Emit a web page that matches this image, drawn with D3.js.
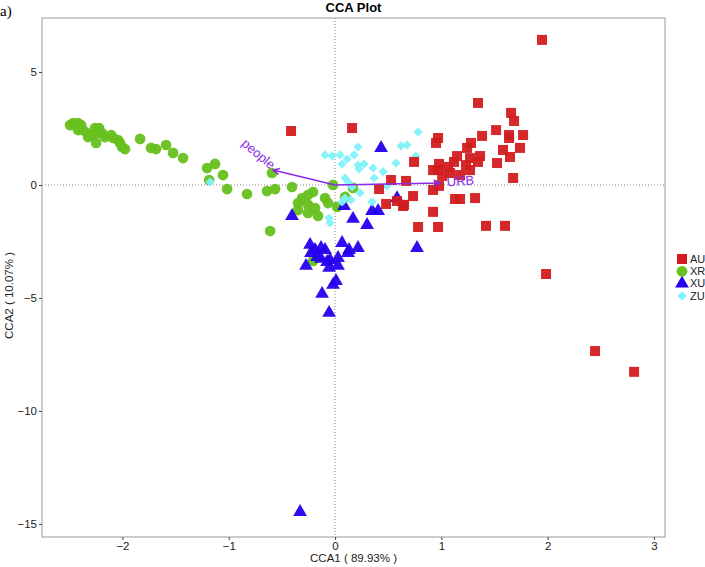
<!DOCTYPE html>
<html>
<head>
<meta charset="utf-8">
<script src="https://cdnjs.cloudflare.com/ajax/libs/d3/7.8.5/d3.min.js"></script>
<style>
  body { margin: 0; background: #fff; }
  svg text { font-family: "Liberation Sans", Arial, sans-serif; }
</style>
</head>
<body>
<div id="chart"></div>
<script>
// CCA site scores per group, [CCA1, CCA2]
const XR = [
  [-2.493, 2.65], [-2.465, 2.74], [-2.418, 2.74], [-2.389, 2.65], [-2.418, 2.43], [-2.371, 2.43],
  [-2.333, 2.30], [-2.324, 2.12], [-2.295, 2.21], [-2.258, 2.52], [-2.220, 2.52], [-2.239, 2.30],
  [-2.192, 2.30], [-2.164, 2.12], [-2.107, 2.21], [-2.088, 2.08], [-2.041, 1.99], [-2.023, 1.86],
  [-2.004, 1.68], [-1.976, 1.59], [-2.248, 1.86], [-1.834, 2.04], [-1.731, 1.64], [-1.684, 1.59],
  [-1.590, 1.77], [-1.524, 1.42], [-1.430, 1.19], [-1.204, 0.75], [-1.129, 0.93], [-1.054, 0.44],
  [-1.185, 0.22], [-1.016, -0.18], [-0.828, -0.40], [-0.593, 0.53], [-0.640, -0.27], [-0.564, -0.18],
  [-0.405, -0.09], [-0.310, -0.58], [-0.254, -0.44], [-0.207, -0.31], [-0.348, -0.80], [-0.254, -0.88],
  [-0.188, -1.02], [-0.348, -1.11], [-0.254, -1.24], [-0.160, -1.37], [-0.094, -0.58], [-0.066, -0.80],
  [-0.019, 0.00], [0.019, -0.97], [0.094, -0.53], [0.169, -0.13], [-0.611, -2.04], [-0.207, -3.36]
];
const XU = [
  [-0.329, -14.47], [0.433, 1.64], [-0.405, -1.37], [0.085, -0.93], [0.169, -1.50], [0.301, -1.77],
  [0.348, -1.15], [0.405, -1.15], [0.583, -0.58], [-0.235, -2.65], [-0.132, -2.79], [-0.094, -2.88],
  [-0.226, -3.01], [-0.169, -3.19], [-0.132, -3.27], [-0.047, -3.32], [0.028, -3.23], [-0.273, -3.58],
  [-0.056, -3.67], [0.028, -3.58], [0.066, -2.57], [0.132, -2.88], [0.122, -3.01], [0.216, -2.79],
  [0.009, -4.25], [-0.019, -4.42], [-0.122, -4.82], [-0.056, -5.66], [0.771, -2.79], [-0.188, -2.88],
  [-0.075, -3.41]
];
const ZU = [
  [-0.094, 1.33], [-0.028, 1.28], [0.047, 1.33], [0.113, 1.15], [0.179, 1.33], [0.216, 1.68],
  [0.066, 0.93], [0.216, 0.88], [0.273, 0.93], [0.226, 0.71], [0.357, 0.75], [0.452, 0.58],
  [0.367, 0.31], [0.094, 0.31], [0.122, 0.13], [0.160, -0.09], [0.235, -0.35], [0.094, -0.58],
  [0.066, -0.75], [0.151, -0.66], [0.348, -0.75], [0.621, 1.73], [0.677, 1.77], [0.781, 2.35],
  [0.762, 1.28], [0.574, 0.97], [0.489, -0.04], [-0.056, -1.46], [-0.047, -1.68], [-1.176, 0.13]
];
const AU = [
  [1.947, 6.42], [1.985, -3.94], [2.446, -7.35], [2.813, -8.27], [-0.414, 2.39], [0.160, 2.52],
  [1.345, 3.63], [1.656, 3.19], [1.684, 2.83], [1.383, 2.17], [1.515, 2.43], [1.637, 2.21],
  [1.637, 2.08], [1.769, 2.21], [0.969, 2.08], [0.950, 1.86], [1.279, 1.86], [1.242, 1.64],
  [1.580, 1.55], [1.740, 1.64], [1.646, 1.24], [1.524, 0.97], [1.148, 1.28], [1.119, 1.02],
  [1.270, 1.19], [1.364, 1.28], [1.345, 1.02], [1.232, 0.88], [1.270, 0.66], [0.978, 0.93],
  [0.922, 0.66], [0.969, 0.66], [1.063, 0.80], [1.082, 0.53], [1.007, 0.40], [1.176, 0.44],
  [0.743, 1.02], [0.668, 0.18], [0.978, -0.04], [0.922, -0.22], [1.675, 0.31], [0.734, -0.49],
  [0.649, -0.88], [1.129, -0.62], [1.176, -0.62], [1.317, -0.58], [0.922, -1.19], [0.781, -1.86],
  [0.969, -1.86], [1.420, -1.81], [1.599, -1.81], [0.527, 0.22], [0.414, -0.18], [0.480, -0.84],
  [0.583, -0.71], [0.640, -0.93]
];

const groups = ["AU", "XR", "XU", "ZU"];
const groupData = { AU: AU, XR: XR, XU: XU, ZU: ZU };
const drawOrder = ["XR", "XU", "ZU", "AU"];
const colorMap = { AU: "#d21c1f", XR: "#66c01e", XU: "#2400ee", ZU: "#80f2fb" };

// environmental vectors
const envNames = ["people", "URB"];
const envX = [-0.583, 0.988];
const envY = [0.66, 0.09];
const envLabelX = [-0.72, 1.18];
const envLabelY = [1.38, 0.18];
const envLabelAngle = [40, -4];

const xTicks = [-2, -1, 0, 1, 2, 3];
const yTicks = [5, 0, -5, -10, -15];

const W = 705, H = 567;
const plot = { left: 42, right: 665, top: 18, bottom: 537 };

const svg = d3.select("#chart").append("svg")
  .attr("width", W).attr("height", H);

const x = d3.scaleLinear().domain([-2.757, 3.104]).range([plot.left, plot.right]);
const y = d3.scaleLinear().domain([-15.58, 7.39]).range([plot.bottom, plot.top]);

// origin reference lines
svg.append("line")
  .attr("x1", x(0)).attr("x2", x(0)).attr("y1", plot.top).attr("y2", plot.bottom)
  .attr("stroke", "#555").attr("stroke-width", 0.7).attr("stroke-dasharray", "1,2");
svg.append("line")
  .attr("x1", plot.left).attr("x2", plot.right).attr("y1", y(0)).attr("y2", y(0))
  .attr("stroke", "#555").attr("stroke-width", 0.7).attr("stroke-dasharray", "1,2");

// symbols
const symbolFor = {
  AU: d3.symbol().type(d3.symbolSquare).size(100),
  XR: d3.symbol().type(d3.symbolCircle).size(90),
  XU: d3.symbol().type(d3.symbolTriangle).size(82),
  ZU: d3.symbol().type(d3.symbolSquare).size(42)
};
const rotFor = { AU: 0, XR: 0, XU: 0, ZU: 45 };

drawOrder.forEach(g => {
  svg.append("g").selectAll("path")
    .data(groupData[g])
    .enter().append("path")
    .attr("d", symbolFor[g]())
    .attr("transform", d => `translate(${x(d[0])},${y(d[1])}) rotate(${rotFor[g]})`)
    .attr("fill", colorMap[g])
    .attr("fill-opacity", 0.95);
});

// arrows
const arrowColor = "#8b2be6";
envNames.forEach((name, i) => {
  const x0 = x(0), y0 = y(0), x1 = x(envX[i]), y1 = y(envY[i]);
  svg.append("line")
    .attr("x1", x0).attr("y1", y0).attr("x2", x1).attr("y2", y1)
    .attr("stroke", arrowColor).attr("stroke-width", 1.5);
  const ang = Math.atan2(y1 - y0, x1 - x0);
  const len = 7, spread = Math.PI / 7;
  const pts = [
    [x1 - len * Math.cos(ang - spread), y1 - len * Math.sin(ang - spread)],
    [x1, y1],
    [x1 - len * Math.cos(ang + spread), y1 - len * Math.sin(ang + spread)]
  ];
  svg.append("path")
    .attr("d", d3.line()(pts))
    .attr("fill", "none").attr("stroke", arrowColor).attr("stroke-width", 1.5);
  svg.append("text")
    .attr("transform", `translate(${x(envLabelX[i])},${y(envLabelY[i])}) rotate(${envLabelAngle[i]})`)
    .attr("text-anchor", "middle")
    .attr("dy", "0.35em")
    .style("font-size", "13px")
    .style("fill", arrowColor)
    .text(name);
});

// panel border
svg.append("rect")
  .attr("x", plot.left).attr("y", plot.top)
  .attr("width", plot.right - plot.left).attr("height", plot.bottom - plot.top)
  .attr("fill", "none").attr("stroke", "#999").attr("stroke-width", 1);

// axes
const xAxis = svg.append("g")
  .attr("transform", `translate(0,${plot.bottom})`)
  .call(d3.axisBottom(x).tickValues(xTicks).tickFormat(d3.format("d")).tickSize(3).tickPadding(2));
const yAxis = svg.append("g")
  .attr("transform", `translate(${plot.left},0)`)
  .call(d3.axisLeft(y).tickValues(yTicks).tickFormat(d3.format("d")).tickSize(3).tickPadding(2));
[xAxis, yAxis].forEach(a => {
  a.select(".domain").remove();
  a.selectAll(".tick line").attr("stroke", "#444");
  a.selectAll(".tick text").style("font-size", "11.5px").style("fill", "#222")
    .style("font-family", "'Liberation Sans', Arial, sans-serif");
});

// titles
svg.append("text")
  .attr("x", (plot.left + plot.right) / 2).attr("y", 12)
  .attr("text-anchor", "middle")
  .style("font-size", "13px").style("font-weight", "bold")
  .text("CCA Plot");

svg.append("text")
  .attr("x", 0).attr("y", 16)
  .style("font-family", "'Liberation Serif', 'Times New Roman', serif")
  .style("font-size", "15px")
  .text("a)");

svg.append("text")
  .attr("x", (plot.left + plot.right) / 2).attr("y", 562)
  .attr("text-anchor", "middle")
  .style("font-size", "11.5px").style("fill", "#222")
  .text("CCA1 ( 89.93% )");

svg.append("text")
  .attr("transform", `translate(13,${(plot.top + plot.bottom) / 2 + 18}) rotate(-90)`)
  .attr("text-anchor", "middle")
  .style("font-size", "11.5px").style("fill", "#222")
  .text("CCA2 ( 10.07% )");

// legend
const legend = svg.append("g").attr("transform", "translate(682,259)");
groups.forEach((g, i) => {
  const row = legend.append("g").attr("transform", `translate(0,${i * 12.3})`);
  row.append("path")
    .attr("d", symbolFor[g]())
    .attr("transform", `rotate(${rotFor[g]})`)
    .attr("fill", colorMap[g]);
  row.append("text")
    .attr("x", 8).attr("y", 0).attr("dy", "0.35em")
    .style("font-size", "11px").style("fill", "#222")
    .text(g);
});
</script>
</body>
</html>
